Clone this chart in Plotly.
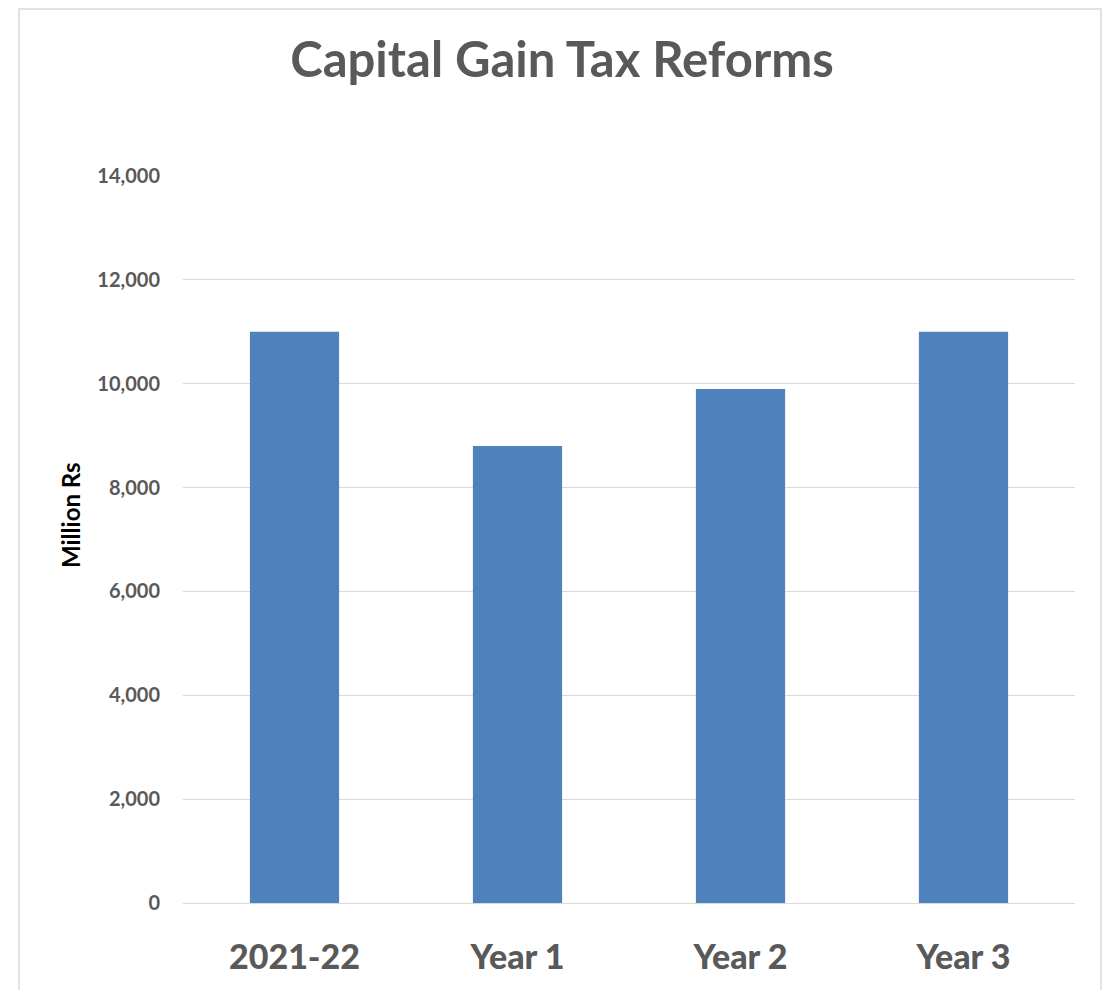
import plotly.graph_objects as go

categories = ["2021-22", "Year 1", "Year 2", "Year 3"]
values = [11000, 8800, 9900, 11000]
y_ticks = [0, 2000, 4000, 6000, 8000, 10000, 12000, 14000]

W, H = 1110, 990
OFF = 8  # page body offset
L, R, T, B = 183 - OFF, 35 + OFF, 176 - OFF, 87 + OFF
pw, ph = W - L - R, H - T - B

def px_x(x):
    return (x - OFF - L) / pw

def px_y(y):
    return (H - B - (y - OFF)) / ph

fig = go.Figure(go.Bar(
    x=categories, y=values,
    marker=dict(color="#4F81BD", line=dict(width=0)),
    width=0.4,
))

fig.update_layout(
    width=W, height=H,
    margin=dict(l=L, r=R, t=T, b=B),
    paper_bgcolor="white", plot_bgcolor="white",
    showlegend=False,
    font=dict(family="Lato", color="#595959"),
    title=dict(text="<b>Capital Gain Tax Reforms</b>", x=px_x(562), xanchor="center",
               xref="paper",
               y=1 - (60 - OFF) / H, yanchor="middle",
               font=dict(size=49, color="#595959", family="Lato")),
    xaxis=dict(showgrid=False, showline=False, ticks="",
               tickfont=dict(size=34, color="#595959", family="Lato", weight=900),
               ticklabelstandoff=31),
    yaxis=dict(range=[0, 14000], tickvals=y_ticks, tickformat=",",
               showgrid=True, gridcolor="#D9D9D9", gridwidth=1.3,
               zeroline=True, zerolinecolor="#D9D9D9", zerolinewidth=1.3,
               showline=False, ticks="",
               tickfont=dict(size=20, color="#595959", family="Lato", weight="bold"),
               ticklabelstandoff=22),
    shapes=[dict(type="rect", xref="paper", yref="paper",
                 x0=px_x(19), x1=px_x(1101), y0=px_y(1010), y1=px_y(9),
                 line=dict(color="#D9D9D9", width=1.5), fillcolor="rgba(0,0,0,0)",
                 layer="below")],
    annotations=[dict(text="<b>Million Rs</b>", textangle=-90,
                      xref="paper", yref="paper", x=px_x(70), y=px_y(515),
                      xanchor="center", yanchor="middle", showarrow=False,
                      font=dict(size=24, color="black", family="Lato"))],
)

fig.write_html("out.html")
